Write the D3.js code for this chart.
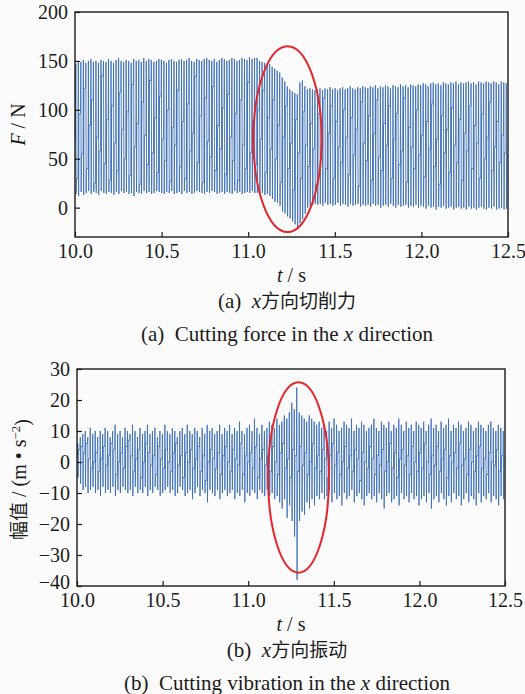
<!DOCTYPE html>
<html>
<head>
<meta charset="utf-8">
<script src="https://cdn.jsdelivr.net/npm/d3@7/dist/d3.min.js"></script>
<style>
  html, body { margin: 0; padding: 0; background: #fbfbfc; }
  svg { display: block; }
</style>
</head>
<body>
<svg id="chart" width="525" height="694"></svg>
<script>
// Time axis (s)
const timeDomain = [10.0, 12.5];
const timeTicks = [10.0, 10.5, 11.0, 11.5, 12.0, 12.5];

// (a) cutting force in x, per spindle cycle: peak, trough and in-between level (N)
const forceHi = [
  147,150,149,151,148,150,152,149,150,148,151,150,149,152,150,148,151,153,150,149,
  151,150,148,152,150,151,149,153,150,152,151,149,150,152,151,150,148,151,152,150,
  149,151,152,150,151,153,150,149,152,151,150,152,153,151,150,152,149,151,153,152,
  150,151,153,152,150,151,153,152,151,154,152,153,
  153,150,149,148,146,147,144,142,140,138,133,129,124,121,119,117,116,128,130,124,121,122,121,120,
  121,122,120,122,121,123,121,122,120,122,123,121,122,124,122,121,123,122,124,123,
  122,124,123,125,122,124,123,125,124,122,125,124,123,126,124,125,123,126,125,124,
  126,125,127,126,124,127,128,126,127,125,128,127,126,128,127,129,126,128,127,128,
  129,127,128,126,129,128,127,129,128,127,129,128,126,129,128,127
];
const forceLo = [
  14,12,16,13,15,17,14,16,15,13,17,15,14,16,15,13,16,14,17,15,
  16,14,15,12,16,15,14,17,15,16,14,15,17,16,15,14,16,15,17,14,
  15,16,14,17,15,16,14,15,17,16,15,14,16,15,17,16,14,15,16,14,
  16,15,14,17,15,16,14,15,16,15,17,15,
  15,14,15,13,14,12,9,6,5,2,-4,-6,-9,-11,-14,-17,-21,-16,-12,-6,0,2,3,4,
  3,4,2,5,3,4,2,3,5,2,4,3,1,4,2,3,4,1,3,2,
  3,1,4,2,3,0,2,3,1,4,2,0,3,1,2,3,0,2,1,3,
  0,2,1,-1,2,0,1,-2,1,0,2,-1,0,1,-2,0,1,-1,0,-2,
  1,-1,0,-2,0,1,-1,-2,0,-1,1,-2,-1,0,-2,-1
];
const forceMid = [
  68,30,96,55,122,40,84,110,25,72,58,135,45,90,28,104,66,38,118,80,
  50,98,33,126,62,86,24,108,74,44,130,56,92,36,114,70,48,100,27,82,
  64,120,42,88,30,106,58,76,134,46,94,26,112,68,52,124,38,84,60,102,
  34,116,72,48,96,28,110,64,40,128,56,88,
  44,100,70,120,36,92,60,110,50,84,26,72,104,40,66,18,90,56,30,98,64,42,86,60,
  24,96,58,112,40,76,104,30,88,62,46,100,72,34,92,54,80,22,108,66,
  48,94,28,76,110,52,38,86,64,104,30,70,96,44,58,112,26,82,62,40,
  100,54,74,32,88,60,106,42,70,24,94,56,80,36,102,64,46,90,28,76,
  58,104,40,84,66,30,96,50,72,108,38,62,88,46,74,56
];
const forceDomain = [-30, 200];
const forceTicks = [0, 50, 100, 150, 200];
// highlighted region: centre (s, N) and half-widths (s, N)
const forceMark = [11.227, 70, 0.197, 95];

// (b) vibration in x, per cycle: peak, trough and in-between level (m/s^2)
const vibHi = [
  6,8,9,10,8,11,9,10,8,10,9,11,10,8,10,12,9,10,8,11,
  10,9,12,10,8,11,9,10,12,9,10,11,8,10,9,12,10,9,11,10,
  8,10,11,9,12,10,9,11,10,8,11,9,12,10,11,9,10,12,9,11,
  10,12,9,11,10,13,10,9,11,12,10,14,11,9,12,10,11,
  13,12,11,14,12,13,15,14,16,19,17,24,16,15,14,13,15,14,13,12,13,
  11,12,10,13,11,14,12,10,11,13,12,11,14,10,12,11,13,12,10,11,
  12,14,11,10,13,12,11,13,10,12,11,14,12,10,13,11,12,10,13,12,
  11,13,10,12,14,11,12,10,13,11,12,14,10,12,11,13,12,10,11,13,
  12,10,11,13,12,11,10,12,13,11,10,12,11,10
];
const vibLo = [
  -5,-7,-9,-8,-10,-9,-8,-10,-9,-11,-8,-10,-9,-10,-8,-11,-9,-10,-8,-9,
  -10,-9,-11,-8,-10,-9,-10,-8,-11,-9,-10,-8,-9,-11,-10,-9,-8,-10,-9,-11,
  -10,-8,-9,-11,-10,-9,-12,-10,-8,-11,-9,-10,-13,-9,-10,-11,-9,-12,-10,-9,
  -11,-10,-9,-12,-10,-11,-9,-13,-10,-11,-9,-10,-12,-9,-10,-11,-9,
  -11,-10,-12,-11,-13,-15,-12,-18,-14,-19,-24,-38,-19,-16,-17,-13,-15,-12,-14,-11,-12,
  -10,-12,-11,-9,-13,-10,-12,-11,-14,-10,-12,-11,-9,-13,-11,-10,-12,-14,-11,-10,
  -12,-11,-13,-10,-12,-15,-11,-10,-13,-12,-11,-14,-10,-12,-11,-13,-10,-12,-11,-14,
  -12,-11,-13,-10,-15,-12,-11,-13,-10,-12,-14,-11,-13,-10,-12,-11,-14,-12,-10,-13,
  -11,-12,-14,-10,-13,-11,-12,-10,-13,-11,-12,-14,-11,-12
];
const vibMid = [
  2,4,5,3,6,1,-2,0,3,-3,1,5,-1,2,6,4,-4,0,3,-2,
  5,7,2,-3,1,4,-5,0,6,3,-1,2,-4,5,1,-2,4,0,-3,3,
  6,-1,2,-5,3,0,4,-2,1,5,-3,2,-6,0,4,1,-2,3,-4,2,
  5,0,-3,4,1,-1,6,-4,2,0,3,-2,5,-5,1,4,-1,
  2,-3,5,0,-4,3,6,-2,1,-5,4,2,-3,5,-1,3,-4,0,6,-2,2,
  -3,4,1,-5,2,6,-1,3,-4,0,5,-2,2,-3,4,1,-6,3,0,-2,
  5,1,-4,2,-1,4,-3,0,6,-2,3,-5,1,4,-1,2,-4,5,0,-3,
  3,-2,6,0,-4,2,-1,5,-3,1,4,-5,2,0,3,-2,6,-1,1,-4,
  4,0,-3,2,5,-2,1,-4,3,0,-1,4,-3,2
];
const vibDomain = [-40, 30];
const vibTicks = [-40, -30, -20, -10, 0, 10, 20, 30];
const vibMark = [11.294, -5, 0.178, 30.7];

const svg = d3.select("#chart");
const SERIF = "'Liberation Serif', 'Times New Roman', serif";
const CJK = "'Noto Sans CJK SC', sans-serif";
const LINE_COLOR = "#3b6db4";
const INK = "#1b1b1b";

// Turn per-cycle peak/trough/level values into a polyline in (t, value)
function cycleTrace(hi, lo, mid) {
  const n = Math.min(hi.length, lo.length, mid.length);
  const period = (timeDomain[1] - timeDomain[0]) / n;
  const pts = [];
  for (let i = 0; i < n; i++) {
    const t0 = timeDomain[0] + (i + 0.2) * period;
    const next = mid[Math.min(i + 1, n - 1)];
    pts.push([t0, mid[i]]);
    pts.push([t0 + 0.12 * period, hi[i]]);
    pts.push([t0 + 0.24 * period, lo[i]]);
    pts.push([t0 + 0.36 * period, next]);
    if (i + 1 < n) pts.push([timeDomain[0] + (i + 1.2) * period, next]);
  }
  return pts;
}

function drawPanel(opts) {
  const { left, right, top, bottom, yDomain, yTicks, hi, lo, mid, mark, id } = opts;
  const x = d3.scaleLinear().domain(timeDomain).range([left, right]);
  const y = d3.scaleLinear().domain(yDomain).range([bottom, top]);
  const g = svg.append("g");

  g.append("clipPath").attr("id", id)
    .append("rect").attr("x", left).attr("y", top)
    .attr("width", right - left).attr("height", bottom - top);

  const line = d3.line().x(d => x(d[0])).y(d => y(d[1]));
  g.append("path")
    .attr("clip-path", `url(#${id})`)
    .attr("d", line(cycleTrace(hi, lo, mid)))
    .attr("fill", "none")
    .attr("stroke", LINE_COLOR)
    .attr("stroke-opacity", 0.9)
    .attr("stroke-width", 0.95)
    .attr("stroke-linejoin", "miter");

  // highlighted region
  g.append("ellipse")
    .attr("cx", x(mark[0])).attr("cy", y(mark[1]))
    .attr("rx", x(mark[0] + mark[2]) - x(mark[0]))
    .attr("ry", y(mark[1] - mark[3]) - y(mark[1]))
    .attr("fill", "none").attr("stroke", "#e5252a").attr("stroke-width", 2);

  // axes with inward ticks
  const xAxis = d3.axisBottom(x).tickValues(timeTicks).tickFormat(d3.format(".1f"))
    .tickSizeInner(-5).tickSizeOuter(0).tickPadding(7);
  const yAxis = d3.axisLeft(y).tickValues(yTicks).tickFormat(d3.format("d"))
    .tickSizeInner(-5).tickSizeOuter(0).tickPadding(7);

  const gx = g.append("g").attr("transform", `translate(0,${bottom})`).call(xAxis);
  const gy = g.append("g").attr("transform", `translate(${left},0)`).call(yAxis);
  [gx, gy].forEach(ax => {
    ax.attr("font-family", SERIF).attr("font-size", 20);
    ax.select(".domain").remove();
    ax.selectAll(".tick line").attr("stroke", INK).attr("stroke-width", 1.2);
    ax.selectAll(".tick text").attr("fill", INK)
      .style("font-family", SERIF).style("font-size", "20px");
  });

  g.append("rect")
    .attr("x", left).attr("y", top)
    .attr("width", right - left).attr("height", bottom - top)
    .attr("fill", "none").attr("stroke", INK).attr("stroke-width", 1.4);

  // x-axis title
  const xt = g.append("text")
    .attr("x", (left + right) / 2).attr("y", bottom + 45)
    .attr("text-anchor", "middle").attr("fill", INK)
    .style("font-family", SERIF).style("font-size", "20px");
  xt.append("tspan").style("font-style", "italic").text("t");
  xt.append("tspan").text("\u00a0/\u00a0s");

  return { x, y, g };
}

// ---- panel (a): cutting force ----
const a = drawPanel({
  id: "clipA", left: 75, right: 508, top: 12, bottom: 237,
  yDomain: forceDomain, yTicks: forceTicks,
  hi: forceHi, lo: forceLo, mid: forceMid, mark: forceMark
});

const ya = a.g.append("text")
  .attr("transform", `translate(25,${(12 + 237) / 2}) rotate(-90)`)
  .attr("text-anchor", "middle").attr("fill", INK)
  .style("font-family", SERIF).style("font-size", "20px");
ya.append("tspan").style("font-style", "italic").text("F");
ya.append("tspan").text("\u00a0/\u00a0N");

function caption(cx, yCn, yEn, tag, cn, enBefore, enAfter) {
  const t1 = svg.append("text")
    .attr("x", cx).attr("y", yCn).attr("text-anchor", "middle").attr("fill", INK)
    .style("font-size", "21px");
  t1.append("tspan").style("font-family", SERIF).text(tag + "\u00a0\u00a0");
  t1.append("tspan").style("font-family", SERIF).style("font-style", "italic").text("x");
  t1.append("tspan").style("font-family", CJK).style("font-size", "19px").text(cn);

  const t2 = svg.append("text")
    .attr("x", cx).attr("y", yEn).attr("text-anchor", "middle").attr("fill", INK)
    .style("font-family", SERIF).style("font-size", "21px");
  t2.append("tspan").text(tag + "\u00a0\u00a0" + enBefore);
  t2.append("tspan").style("font-style", "italic").text("x");
  t2.append("tspan").text(enAfter);
}

caption(287, 308, 341, "(a)", "方向切削力", "Cutting force in the ", " direction");

// ---- panel (b): vibration ----
const b = drawPanel({
  id: "clipB", left: 77, right: 505, top: 369, bottom: 586,
  yDomain: vibDomain, yTicks: vibTicks,
  hi: vibHi, lo: vibLo, mid: vibMid, mark: vibMark
});

// lowest y tick label sits just above the corner, clear of the x labels
b.g.selectAll(".tick text").filter(d => d === vibDomain[0]).attr("dy", "0.12em");

const yb = b.g.append("text")
  .attr("transform", `translate(26,${(369 + 586) / 2 + 2}) rotate(-90)`)
  .attr("text-anchor", "middle").attr("fill", INK)
  .style("font-family", SERIF).style("font-size", "20px");
yb.append("tspan").style("font-family", CJK).style("font-size", "19px").text("幅值");
yb.append("tspan").text("\u00a0/\u00a0(m\u00a0•\u00a0s");
yb.append("tspan").attr("dy", "-0.45em").style("font-size", "13px").text("\u22122");
yb.append("tspan").attr("dy", "0.45em").text(")");

caption(287, 657, 690, "(b)", "方向振动", "Cutting vibration in the ", " direction");
</script>
</body>
</html>
